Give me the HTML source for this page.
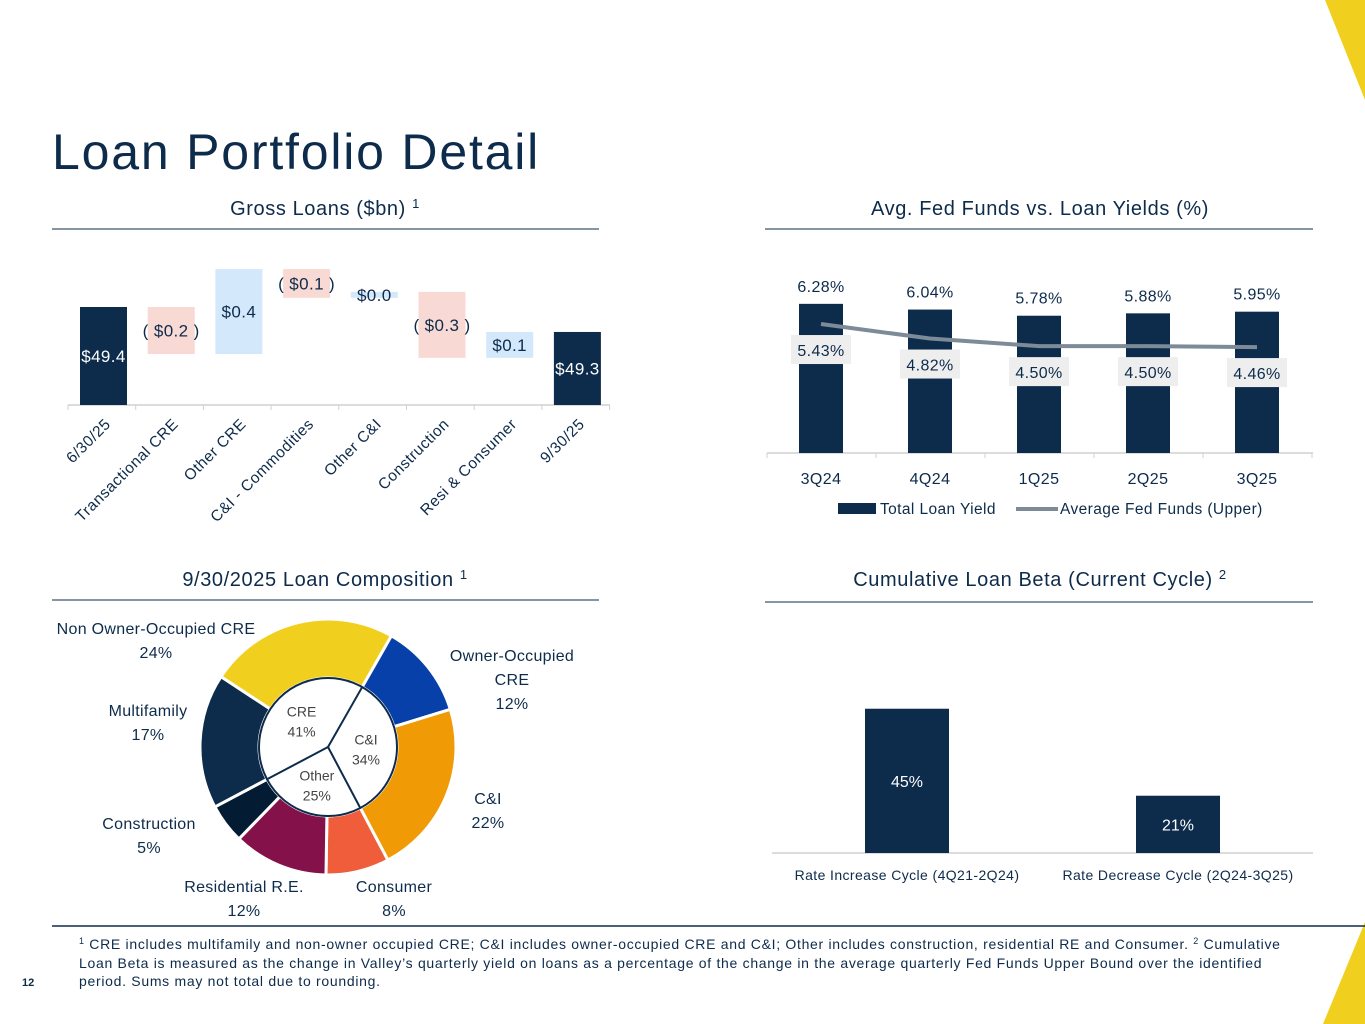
<!DOCTYPE html>
<html><head><meta charset="utf-8"><style>
html,body{margin:0;padding:0;background:#fff;}
svg{display:block;font-family:"Liberation Sans",sans-serif;}
</style></head><body>
<svg id="s" width="1365" height="1024" viewBox="0 0 1365 1024" xmlns="http://www.w3.org/2000/svg">
<polygon points="1325,0 1365,0 1365,100" fill="#f1cf1f"/>
<polygon points="1365,922 1365,1024 1323,1024" fill="#f1cf1f"/>
<text x="52" y="169" font-size="50" letter-spacing="1.8" fill="#0d2b4b">Loan Portfolio Detail</text>

<g letter-spacing="0.6">
<text x="325" y="215" font-size="20" fill="#0d2b4b" text-anchor="middle">Gross Loans ($bn) <tspan font-size="13" dy="-7">1</tspan></text>
<text x="1040" y="215" font-size="20" fill="#0d2b4b" text-anchor="middle">Avg. Fed Funds vs. Loan Yields (%)</text>
<text x="325" y="586" font-size="20" fill="#0d2b4b" text-anchor="middle">9/30/2025 Loan Composition <tspan font-size="13" dy="-7">1</tspan></text>
<text x="1040" y="586" font-size="20" fill="#0d2b4b" text-anchor="middle">Cumulative Loan Beta (Current Cycle) <tspan font-size="13" dy="-7">2</tspan></text>
</g>
<line x1="52" y1="229" x2="599" y2="229" stroke="#0d2b4b" stroke-width="1"/>
<line x1="765" y1="229" x2="1313" y2="229" stroke="#0d2b4b" stroke-width="1"/>
<line x1="52" y1="600" x2="599" y2="600" stroke="#0d2b4b" stroke-width="1"/>
<line x1="765" y1="602" x2="1313" y2="602" stroke="#0d2b4b" stroke-width="1"/>

<g id="wf"></g>
<g id="lc"></g>
<g id="dn"></g>
<g id="bc"></g>

<line x1="52" y1="926" x2="1365" y2="926" stroke="#0d2b4b" stroke-width="1.5"/>
<g font-size="14" letter-spacing="0.7" fill="#0d2b4b">
<text x="79" y="949"><tspan font-size="9" dy="-5">1</tspan><tspan dy="5"> CRE includes multifamily and non-owner occupied CRE; C&amp;I includes owner-occupied CRE and C&amp;I; Other includes construction, residential RE and Consumer.  </tspan><tspan font-size="9" dy="-5">2</tspan><tspan dy="5"> Cumulative</tspan></text>
<text x="79" y="968">Loan Beta is measured as the change in Valley’s quarterly yield on loans as a percentage of the change in the average quarterly Fed Funds Upper Bound over the identified</text>
<text x="79" y="986">period.  Sums may not total due to rounding.</text>
</g>
<text x="22" y="986" font-size="11" font-weight="bold" fill="#0d2b4b">12</text>
</svg>
<script>
// Waterfall data
var wfCats=["6/30/25","Transactional CRE","Other CRE","C&I - Commodities","Other C&I","Construction","Resi & Consumer","9/30/25"];
var wfStart=49.4;
var wfDeltas=[-0.196,0.354,-0.12,0.025,-0.275,0.108];
var wfLabels=["$49.4","( $0.2 )","$0.4","( $0.1 )","$0.0","( $0.3 )","$0.1","$49.3"];
// Yield chart data
var qCats=["3Q24","4Q24","1Q25","2Q25","3Q25"];
var loanYield=[6.28,6.04,5.78,5.88,5.95];
var fedFunds=[5.43,4.82,4.50,4.50,4.46];
// Donut data
var outerNames=["Non Owner-Occupied CRE","Owner-Occupied CRE","C&I","Consumer","Residential R.E.","Construction","Multifamily"];
var outerVals=[24,12,22,8,12,5,17];
var innerNames=["C&I","Other","CRE"];
var innerVals=[34,25,41];
// Beta data
var betaCats=["Rate Increase Cycle (4Q21-2Q24)","Rate Decrease Cycle (2Q24-3Q25)"];
var betaVals=[45,21];

var NS="http://www.w3.org/2000/svg";
function mk(p,t,a,txt){var e=document.createElementNS(NS,t);for(var k in a)e.setAttribute(k,a[k]);if(txt!=null)e.textContent=txt;p.appendChild(e);return e;}

// Waterfall
(function(){
var g=document.getElementById('wf');
function y(v){return 307+(wfStart-v)*240;}
function xc(i){return 103.5+i*67.7;}
var base=405,bw=47;
mk(g,'line',{x1:68,y1:base,x2:610,y2:base,stroke:'#d0d0d0','stroke-width':1.5});
for(var i=0;i<=8;i++){var tx=68+i*67.7;var t=mk(g,'line',{x1:tx,y1:base,x2:tx,y2:base+5,stroke:'#d0d0d0'});}
var cur=wfStart;
var end=wfStart;for(var j=0;j<wfDeltas.length;j++)end+=wfDeltas[j];
for(var i=0;i<wfCats.length;i++){
 var top,bot,fill,tc;
 if(i==0){top=y(wfStart);bot=base;fill='#0d2b4b';tc='#fff';}
 else if(i==wfCats.length-1){top=y(end);bot=base;fill='#0d2b4b';tc='#fff';}
 else{var d=wfDeltas[i-1];var a=cur,b=cur+d;cur=b;top=y(Math.max(a,b));bot=y(Math.min(a,b));fill=d<0?'#f9d9d3':'#d3e9fb';tc='#0d2b4b';}
 var r=mk(g,'rect',{x:xc(i)-bw/2,y:top,width:bw,height:Math.max(bot-top,4),fill:fill});
 
 
 var l=mk(g,'text',{x:xc(i),y:(top+bot)/2+6,'font-size':17,'letter-spacing':0.4,fill:tc,'text-anchor':'middle'},wfLabels[i]);
 
 
 var c=mk(g,'text',{x:xc(i)+8,y:base+20,'font-size':15.5,'letter-spacing':0.5,fill:'#0d2b4b','text-anchor':'end',transform:'rotate(-45 '+(xc(i)+8)+' '+(base+20)+')'},wfCats[i]);
 
 
}
})();

// Yield chart
(function(){
var g=document.getElementById('lc');
var base=453;function y(v){return base-v*23.75;}function xc(i){return 821+i*109;}
mk(g,'line',{x1:767,y1:base,x2:1313,y2:base,stroke:'#d0d0d0','stroke-width':1.5});
for(var i=0;i<=5;i++){var t=mk(g,'line',{x1:767+i*109,y1:base,x2:767+i*109,y2:base+5,stroke:'#d0d0d0'});}
for(var i=0;i<qCats.length;i++){
 var r=mk(g,'rect',{x:xc(i)-22,y:y(loanYield[i]),width:44,height:base-y(loanYield[i]),fill:'#0d2b4b'});
 
 
 var l=mk(g,'text',{x:xc(i),y:y(loanYield[i])-12,'font-size':16,'letter-spacing':0.4,fill:'#0d2b4b','text-anchor':'middle'},loanYield[i].toFixed(2)+'%');
 
 
 var c=mk(g,'text',{x:xc(i),y:484,'font-size':16,'letter-spacing':0.4,fill:'#0d2b4b','text-anchor':'middle'},qCats[i]);
 
 
}
var d='';for(var i=0;i<fedFunds.length;i++){d+=(i?'L':'M')+xc(i)+','+y(fedFunds[i]);}
var p=mk(g,'path',{d:d,fill:'none',stroke:'#7d8a97','stroke-width':4,'stroke-linejoin':'round'});


for(var i=0;i<fedFunds.length;i++){
 var cy=y(fedFunds[i])+26;
 var b=mk(g,'rect',{x:xc(i)-30,y:cy-15,width:60,height:29,fill:'#eeeeee'});
 
 
 var l=mk(g,'text',{x:xc(i),y:cy+6,'font-size':16,'letter-spacing':0.4,fill:'#0d2b4b','text-anchor':'middle'},fedFunds[i].toFixed(2)+'%');
 
 
}
var lg=mk(g,'g',{});


mk(lg,'rect',{x:838,y:503,width:38,height:11,fill:'#0d2b4b'});
mk(lg,'text',{x:880,y:514,'font-size':15.5,'letter-spacing':0.4,fill:'#0d2b4b'},'Total Loan Yield');
mk(lg,'line',{x1:1016,y1:509,x2:1058,y2:509,stroke:'#7d8a97','stroke-width':4});
mk(lg,'text',{x:1060,y:514,'font-size':15.5,'letter-spacing':0.4,fill:'#0d2b4b'},'Average Fed Funds (Upper)');
})();

// Donut
(function(){
var g=document.getElementById('dn');
var cx=328,cy=747,R=128,r=69;
var colors=['#f1cf1f','#0640a8','#f09a05','#f05d3b','#84114a','#031c33','#0d2b4b'];
function pt(a,rad){var t=(a-90)*Math.PI/180;return [cx+rad*Math.cos(t),cy+rad*Math.sin(t)];}
var ang=303.3;
for(var i=0;i<outerVals.length;i++){
 var a0=ang,a1=ang+outerVals[i]*3.6;ang=a1;
 var p0=pt(a0,R),p1=pt(a1,R),q1=pt(a1,r),q0=pt(a0,r);var lg=(a1-a0)>180?1:0;
 var s=mk(g,'path',{d:'M'+p0+'A'+R+','+R+' 0 '+lg+' 1 '+p1+'L'+q1+'A'+r+','+r+' 0 '+lg+' 0 '+q0+'Z',fill:colors[i],stroke:'#fff','stroke-width':3});
 
 
}
mk(g,'circle',{cx:cx,cy:cy,r:r,fill:'#fff',stroke:'#0d2b4b','stroke-width':2});
var a=29.7;
for(var i=0;i<innerVals.length;i++){
 var e=pt(a,r);var ln=mk(g,'line',{x1:cx,y1:cy,x2:e[0],y2:e[1],stroke:'#0d2b4b','stroke-width':2});
 
 
 var mid=a+innerVals[i]*1.8;var m=pt(mid,38);
 var t=mk(g,'text',{x:m[0],y:m[1]-3,'font-size':14,fill:'#444','text-anchor':'middle'},innerNames[i]);
 
 
 mk(g,'text',{x:m[0],y:m[1]+17,'font-size':14,fill:'#444','text-anchor':'middle'},innerVals[i]+'%');
 a+=innerVals[i]*3.6;
}
var lab=[[156,634,['Non Owner-Occupied CRE']],[512,661,['Owner-Occupied','CRE']],[488,804,['C&I']],[394,892,['Consumer']],[244,892,['Residential R.E.']],[149,829,['Construction']],[148,716,['Multifamily']]];
for(var i=0;i<lab.length;i++){
 var L=lab[i];var tg=mk(g,'text',{x:L[0],y:L[1],'font-size':16,'letter-spacing':0.3,fill:'#0d2b4b','text-anchor':'middle'});
 
 
 var lines=L[2].concat([outerVals[i]+'%']);
 for(var k=0;k<lines.length;k++){mk(tg,'tspan',{x:L[0],dy:k?24:0},lines[k]);}
}
})();

// Beta chart
(function(){
var g=document.getElementById('bc');
var base=853;function y(v){return base-(v-5.2)*3.625;}function xc(i){return 907+i*271;}
mk(g,'line',{x1:772,y1:base,x2:1313,y2:base,stroke:'#d0d0d0','stroke-width':1.5});
for(var i=0;i<betaVals.length;i++){
 var r=mk(g,'rect',{x:xc(i)-42,y:y(betaVals[i]),width:84,height:base-y(betaVals[i]),fill:'#0d2b4b'});
 
 
 var l=mk(g,'text',{x:xc(i),y:(y(betaVals[i])+base)/2+6,'font-size':16,fill:'#fff','text-anchor':'middle'},betaVals[i]+'%');
 
 
 var c=mk(g,'text',{x:xc(i),y:880,'font-size':14,'letter-spacing':0.4,fill:'#0d2b4b','text-anchor':'middle'},betaCats[i]);
 
 
}
})();
</script>
</body></html>
